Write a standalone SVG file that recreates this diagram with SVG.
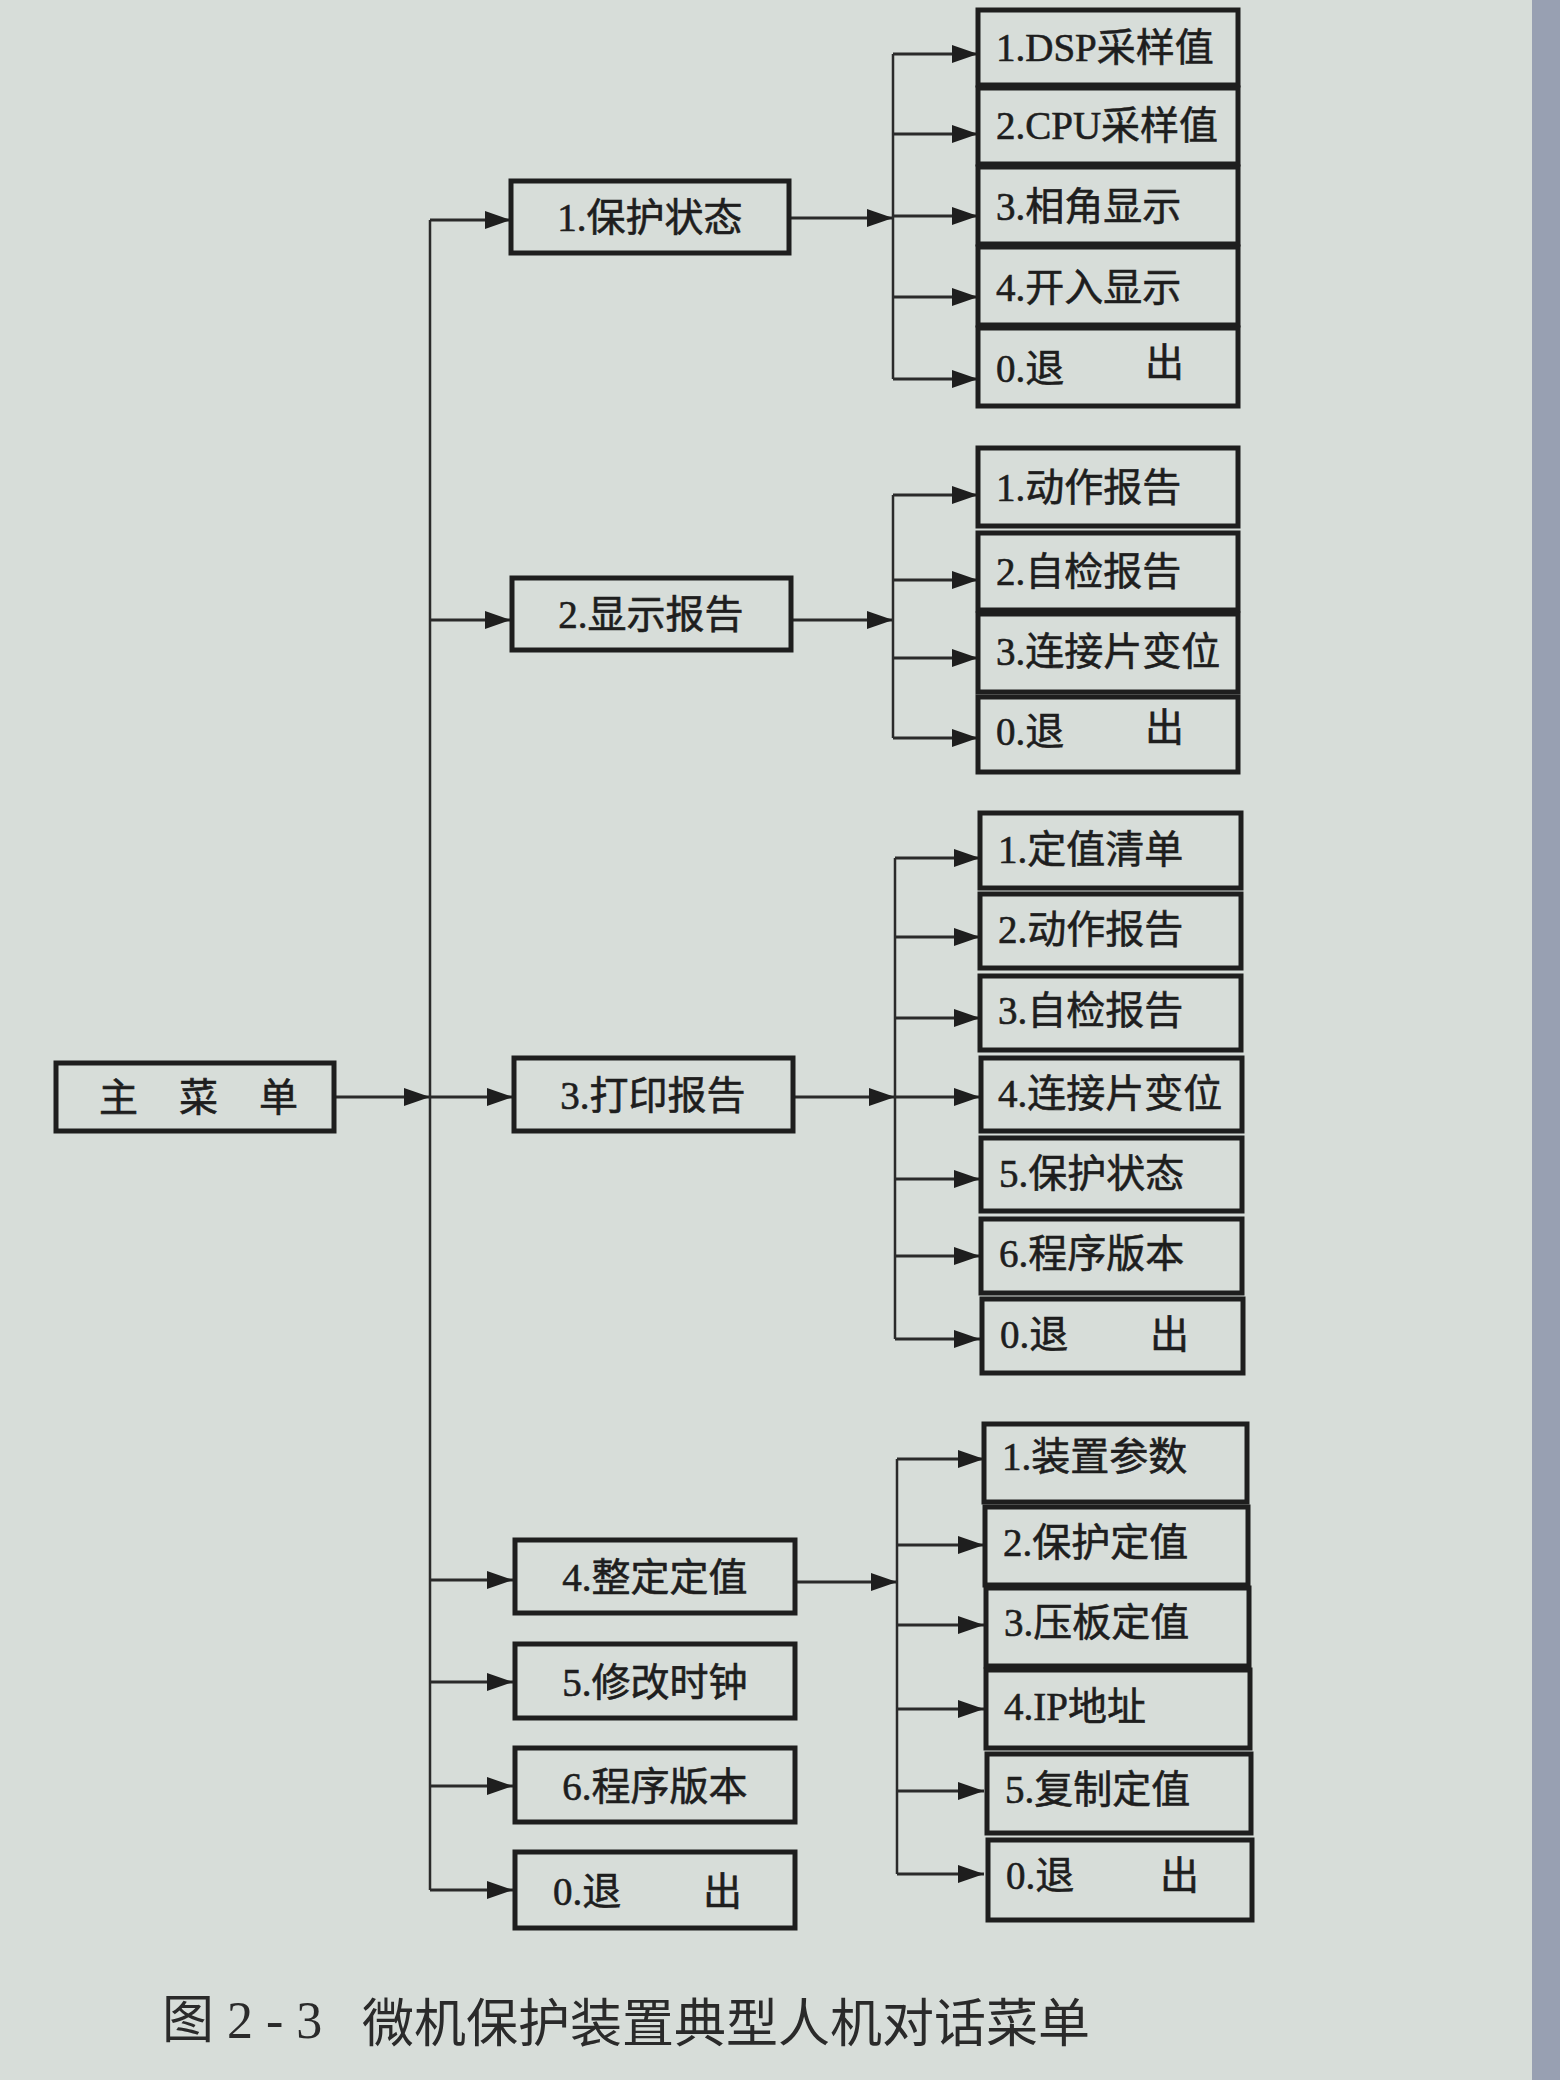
<svg xmlns="http://www.w3.org/2000/svg" width="1560" height="2080" viewBox="0 0 1560 2080">
<style>
.bx{fill:none;stroke:#1e1e1e;stroke-width:5}
.t{font-family:"Liberation Serif","Noto Sans CJK SC",serif;font-size:39px;fill:#1e1e1e;stroke:#1e1e1e;stroke-width:0.6}
.c{text-anchor:middle}
.ln{fill:none;stroke:#2a2a2a;stroke-width:2.5}
.ar{fill:none;stroke:#2a2a2a;stroke-width:3;marker-end:url(#ah)}
.cap{font-family:"Liberation Serif","Noto Sans CJK SC",serif;font-size:52px;fill:#2a2a2a}
</style>
<defs>
<marker id="ah" markerUnits="userSpaceOnUse" markerWidth="28" markerHeight="20" refX="26" refY="10" orient="auto">
<path d="M0,1 L26,10 L0,19 Z" fill="#1e1e1e"/>
</marker>
</defs>
<rect x="0" y="0" width="1560" height="2080" fill="#d7ddd9"/>
<rect x="1532" y="0" width="28" height="2080" fill="#98a0b2"/>

<g id="connectors">
<path class="ar" d="M334,1097 H430"/>
<path class="ln" d="M430,220 V1890"/>
<path class="ar" d="M430,220 H511"/>
<path class="ar" d="M430,620 H511"/>
<path class="ar" d="M430,1097 H513"/>
<path class="ar" d="M430,1580 H513"/>
<path class="ar" d="M430,1682 H513"/>
<path class="ar" d="M430,1786 H513"/>
<path class="ar" d="M430,1890 H513"/>

<path class="ar" d="M789,218 H893"/>
<path class="ln" d="M893,54 V379"/>
<path class="ar" d="M893,54 H978"/>
<path class="ar" d="M893,134 H978"/>
<path class="ar" d="M893,216 H978"/>
<path class="ar" d="M893,297 H978"/>
<path class="ar" d="M893,379 H978"/>

<path class="ar" d="M791,620 H893"/>
<path class="ln" d="M893,495 V738"/>
<path class="ar" d="M893,495 H978"/>
<path class="ar" d="M893,580 H978"/>
<path class="ar" d="M893,658 H978"/>
<path class="ar" d="M893,738 H978"/>

<path class="ar" d="M793,1097 H895"/>
<path class="ln" d="M895,858 V1339"/>
<path class="ar" d="M895,858 H980"/>
<path class="ar" d="M895,937 H980"/>
<path class="ar" d="M895,1018 H980"/>
<path class="ar" d="M895,1097 H980"/>
<path class="ar" d="M895,1179 H980"/>
<path class="ar" d="M895,1256 H980"/>
<path class="ar" d="M895,1339 H980"/>

<path class="ar" d="M795,1582 H897"/>
<path class="ln" d="M897,1459 V1874"/>
<path class="ar" d="M897,1459 H984"/>
<path class="ar" d="M897,1545 H984"/>
<path class="ar" d="M897,1625 H984"/>
<path class="ar" d="M897,1709 H984"/>
<path class="ar" d="M897,1791 H984"/>
<path class="ar" d="M897,1874 H984"/>
</g>

<g id="main"><rect class="bx" x="56" y="1063" width="278" height="68"/><text class="t" x="99" y="1111">主</text><text class="t" x="179" y="1111">菜</text><text class="t" x="259" y="1111">单</text></g>

<g id="m1"><rect class="bx" x="511" y="181" width="278" height="72"/><text class="t c" x="650" y="231">1.保护状态</text></g>
<g id="m2"><rect class="bx" x="512" y="578" width="279" height="72"/><text class="t c" x="651" y="628">2.显示报告</text></g>
<g id="m3"><rect class="bx" x="514" y="1058" width="279" height="73"/><text class="t c" x="653" y="1109">3.打印报告</text></g>
<g id="m4"><rect class="bx" x="515" y="1540" width="280" height="73"/><text class="t c" x="655" y="1591">4.整定定值</text></g>
<g id="m5"><rect class="bx" x="515" y="1644" width="280" height="74"/><text class="t c" x="655" y="1696">5.修改时钟</text></g>
<g id="m6"><rect class="bx" x="515" y="1748" width="280" height="74"/><text class="t c" x="655" y="1800">6.程序版本</text></g>
<g id="m0"><rect class="bx" x="515" y="1852" width="280" height="76"/><text class="t" x="553" y="1905">0.退</text><text class="t" x="703" y="1905">出</text></g>

<g id="s11"><rect class="bx" x="978" y="10" width="260" height="75"/><text class="t" x="996" y="61">1.DSP采样值</text></g>
<g id="s12"><rect class="bx" x="978" y="88" width="260" height="76"/><text class="t" x="996" y="139">2.CPU采样值</text></g>
<g id="s13"><rect class="bx" x="978" y="167" width="260" height="77"/><text class="t" x="996" y="220">3.相角显示</text></g>
<g id="s14"><rect class="bx" x="978" y="247" width="260" height="78"/><text class="t" x="996" y="301">4.开入显示</text></g>
<g id="s10"><rect class="bx" x="978" y="328" width="260" height="78"/><text class="t" x="996" y="382">0.退</text><text class="t" x="1145" y="376">出</text></g>

<g id="s21"><rect class="bx" x="978" y="448" width="260" height="78"/><text class="t" x="996" y="501">1.动作报告</text></g>
<g id="s22"><rect class="bx" x="978" y="533" width="260" height="77"/><text class="t" x="996" y="585">2.自检报告</text></g>
<g id="s23"><rect class="bx" x="978" y="614" width="260" height="78"/><text class="t" x="996" y="665">3.连接片变位</text></g>
<g id="s20"><rect class="bx" x="978" y="697" width="260" height="75"/><text class="t" x="996" y="745">0.退</text><text class="t" x="1145" y="741">出</text></g>

<g id="s31"><rect class="bx" x="980" y="813" width="261" height="75"/><text class="t" x="998" y="863">1.定值清单</text></g>
<g id="s32"><rect class="bx" x="980" y="894" width="261" height="74"/><text class="t" x="998" y="943">2.动作报告</text></g>
<g id="s33"><rect class="bx" x="980" y="976" width="261" height="74"/><text class="t" x="998" y="1024">3.自检报告</text></g>
<g id="s34"><rect class="bx" x="981" y="1058" width="261" height="73"/><text class="t" x="998" y="1107">4.连接片变位</text></g>
<g id="s35"><rect class="bx" x="981" y="1138" width="261" height="73"/><text class="t" x="999" y="1187">5.保护状态</text></g>
<g id="s36"><rect class="bx" x="981" y="1219" width="261" height="74"/><text class="t" x="999" y="1267">6.程序版本</text></g>
<g id="s30"><rect class="bx" x="982" y="1299" width="261" height="74"/><text class="t" x="1000" y="1348">0.退</text><text class="t" x="1150" y="1348">出</text></g>

<g id="s41"><rect class="bx" x="984" y="1424" width="263" height="78"/><text class="t" x="1002" y="1470">1.装置参数</text></g>
<g id="s42"><rect class="bx" x="985" y="1507" width="263" height="78"/><text class="t" x="1003" y="1556">2.保护定值</text></g>
<g id="s43"><rect class="bx" x="986" y="1588" width="263" height="78"/><text class="t" x="1004" y="1636">3.压板定值</text></g>
<g id="s44"><rect class="bx" x="986" y="1670" width="264" height="78"/><text class="t" x="1004" y="1720">4.IP地址</text></g>
<g id="s45"><rect class="bx" x="987" y="1754" width="264" height="79"/><text class="t" x="1005" y="1803">5.复制定值</text></g>
<g id="s40"><rect class="bx" x="988" y="1840" width="264" height="80"/><text class="t" x="1006" y="1889">0.退</text><text class="t" x="1160" y="1889">出</text></g>

<text class="cap" x="162" y="2038">图 2 - 3</text>
<text class="cap" x="362" y="2042">微机保护装置典型人机对话菜单</text>
</svg>
